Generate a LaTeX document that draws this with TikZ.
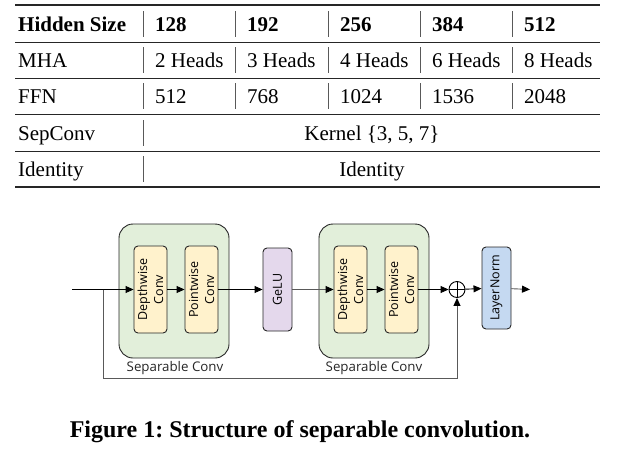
\documentclass[tikz,border=0pt]{standalone}
\usepackage{fontspec}
\setmainfont{Liberation Serif}
\newfontfamily\diagfont{Open Sans}
\usepackage{tikz}
\usetikzlibrary{arrows.meta, positioning, calc}

\definecolor{sepgreen}{HTML}{E2EFDA}
\definecolor{convyellow}{HTML}{FFF2CC}
\definecolor{gelupurple}{HTML}{E4D8EC}
\definecolor{normblue}{HTML}{C5D9F1}

\begin{document}
\begin{tikzpicture}[x=1pt, y=-1pt,
    cell/.style={anchor=base west, inner sep=0pt, font=\fontsize{21}{25}\selectfont},
    hcell/.style={cell, font=\fontsize{21}{25}\selectfont\bfseries},
    midcell/.style={cell, anchor=base},
    rule/.style={draw=black!85, line width=1pt},
    thickrule/.style={draw=black!85, line width=1.7pt},
    bar/.style={draw=black!65, line width=1pt},
    sepbox/.style={draw=black!85, fill=sepgreen, rounded corners=14pt, line width=0.9pt,
        minimum width=110pt, minimum height=134pt},
    convbox/.style={draw=black!85, rounded corners=4pt, rotate=90, line width=0.9pt,
        inner sep=0pt, align=center, font=\diagfont\fontsize{12.5}{16}\selectfont},
    lbl/.style={font=\diagfont\fontsize{13.3}{16}\selectfont, text=black!85},
    arr/.style={-{Triangle[length=8pt, width=7pt, color=black]}, line width=0.9pt},
    garr/.style={arr, draw=black!65}]
    \useasboundingbox (0,0) rectangle (640,453);

    % table rules
    \draw[thickrule] (15,5) -- (600,5);
    \draw[rule] (15,42) -- (600,42);
    \draw[rule] (15,78) -- (600,78);
    \draw[rule] (15,114) -- (600,114);
    \draw[rule] (15,151) -- (600,151);
    \draw[thickrule] (15,187) -- (600,187);
    % column bars
    \draw[bar] (143,11) -- (143,37) (235,11) -- (235,37) (328,11) -- (328,37) (420,11) -- (420,37) (512,11) -- (512,37);
    \draw[bar] (143,47) -- (143,73) (235,47) -- (235,73) (328,47) -- (328,73) (420,47) -- (420,73) (512,47) -- (512,73);
    \draw[bar] (143,83) -- (143,109) (235,83) -- (235,109) (328,83) -- (328,109) (420,83) -- (420,109) (512,83) -- (512,109);
    \draw[bar] (143,120) -- (143,146);
    \draw[bar] (143,156) -- (143,182);

    % header row
    \node[hcell] (hid) at (18,31) {Hidden Size};
    \node[hcell] (s128) at (155,31) {128};
    \node[hcell] (s192) at (247,31) {192};
    \node[hcell] (s256) at (340,31) {256};
    \node[hcell] (s384) at (432,31) {384};
    \node[hcell] (s512) at (524,31) {512};
    % MHA row
    \node[cell] (mha) at (18,67) {MHA};
    \node[cell] (h2) at (155,67) {2 Heads};
    \node[cell] (h3) at (247,67) {3 Heads};
    \node[cell] (h4) at (340,67) {4 Heads};
    \node[cell] (h6) at (432,67) {6 Heads};
    \node[cell] (h8) at (524,67) {8 Heads};
    % FFN row
    \node[cell] (ffn) at (18,103) {FFN};
    \node[cell] (f512) at (155,103) {512};
    \node[cell] (f768) at (247,103) {768};
    \node[cell] (f1024) at (340,103) {1024};
    \node[cell] (f1536) at (432,103) {1536};
    \node[cell] (f2048) at (524,103) {2048};
    % SepConv and Identity rows
    \node[cell] (sc) at (18,140) {SepConv};
    \node[midcell] (kern) at (372,140) {Kernel \{3, 5, 7\}};
    \node[cell] (idn) at (18,176) {Identity};
    \node[midcell] (idv) at (372,176) {Identity};

    % structure diagram
    \node[sepbox] (sep1) at (174,291) {};
    \node[sepbox] (sep2) at (374,291) {};
    \node[convbox, fill=convyellow, minimum width=87pt, minimum height=33pt] (dw1) at (150.5,289.5) {Depthwise\\Conv};
    \node[convbox, fill=convyellow, minimum width=87pt, minimum height=33pt] (pw1) at (201.5,289.5) {Pointwise\\Conv};
    \node[convbox, fill=gelupurple, minimum width=83pt, minimum height=29pt] (gelu) at (277.5,289.5) {GeLU};
    \node[convbox, fill=convyellow, minimum width=87pt, minimum height=33pt] (dw2) at (350.5,289.5) {Depthwise\\Conv};
    \node[convbox, fill=convyellow, minimum width=87pt, minimum height=33pt] (pw2) at (401.5,289.5) {Pointwise\\Conv};
    \node[draw, circle, line width=0.9pt, minimum size=16pt, inner sep=0pt] (plus) at (457,289.5) {};
    \node[convbox, fill=normblue, minimum width=82pt, minimum height=29pt] (norm) at (496.5,288) {LayerNorm};
    \node[lbl] (lab1) at (175,368) {Separable Conv};
    \node[lbl] (lab2) at (374,368) {Separable Conv};
    \coordinate (in) at (72,289.5);
    \coordinate (br) at (103,289.5);
    \coordinate (bot) at (457,378);
    \coordinate (out) at (530,289.5);

    \draw[line width=0.9pt] (plus.north) -- (plus.south) (plus.west) -- (plus.east);
    \draw[arr] (in) -- (dw1);
    \draw[arr] (dw1) -- (pw1);
    \draw[arr] (pw1) -- (gelu);
    \draw[garr] (gelu) -- (dw2);
    \draw[arr] (dw2) -- (pw2);
    \draw[arr] (pw2) -- (plus);
    \draw[arr] (plus) -- (norm);
    \draw[garr] (norm) -- (out);
    \draw[garr] (br) |- (bot) -- (plus);

    % caption
    \node[anchor=base, inner sep=0pt, font=\fontsize{24}{28}\selectfont\bfseries] (cap) at (300,437) {Figure 1:\ Structure of separable convolution.};
\end{tikzpicture}
\end{document}
